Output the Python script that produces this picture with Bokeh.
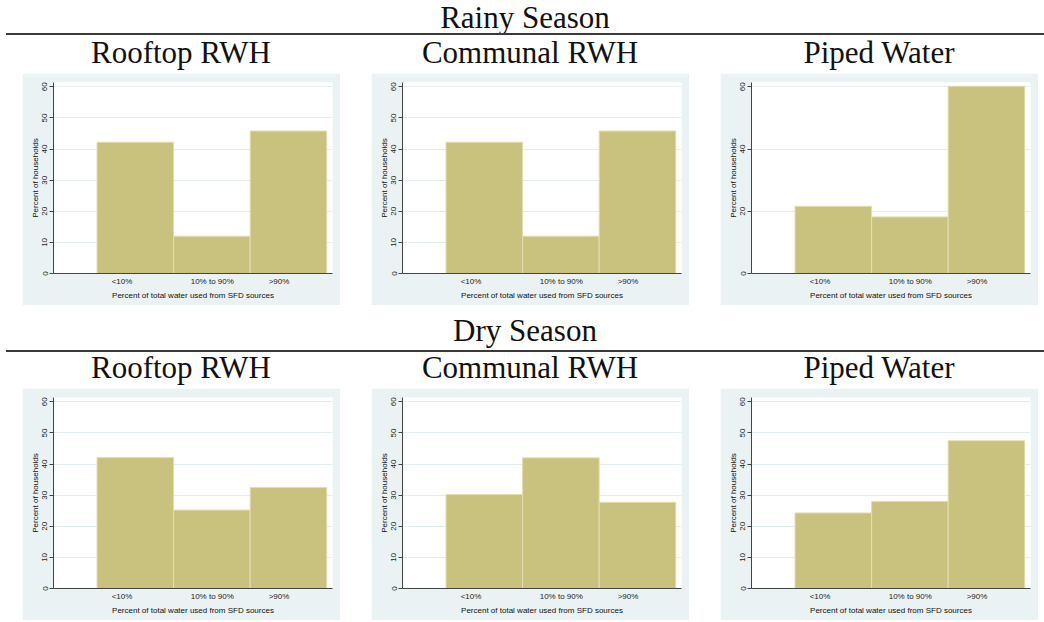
from bokeh.plotting import figure
from bokeh.layouts import column, row
from bokeh.models import Div, Spacer, Range1d, FixedTicker, CustomJSTickFormatter, ColumnDataSource
from bokeh.embed import file_html
from bokeh.resources import INLINE

# ---------------- data ----------------
categories = ["<10%", "10% to 90%", ">90%"]
season_titles = ["Rainy Season", "Dry Season"]
panel_titles = ["Rooftop RWH", "Communal RWH", "Piped Water"]

rainy_rooftop = [42.2, 12.0, 45.8]
rainy_communal = [42.2, 12.0, 45.8]
rainy_piped = [21.6, 18.2, 60.2]
dry_rooftop = [42.1, 25.2, 32.5]
dry_communal = [30.2, 42.0, 27.7]
dry_piped = [24.3, 28.0, 47.5]

y_ticks_10 = [0, 10, 20, 30, 40, 50, 60]
y_ticks_20 = [0, 20, 40, 60]

x_axis_title = "Percent of total water used from SFD sources"
y_axis_title = "Percent of households"

# ---------------- style ----------------
BG = "#eaf2f3"
BAR = "#c9c27f"
BAR_EDGE = "#e2deb0"
AXIS = "#444444"
SANS = "Liberation Sans"
SERIF = "Liberation Serif"

PW, PH = 318, 232
GAP = 31
LEFT = 22
RULE_LEFT = 6
TOTAL_W = 1038

bar_x = [1, 2, 3]
label_pos = [0.827, 2.005, 2.876]


def make_panel(values, yticks):
    src = ColumnDataSource(dict(x=bar_x, top=values, cat=categories))
    p = figure(width=PW, height=PH, output_backend="svg", toolbar_location=None,
               x_range=Range1d(-0.068, 3.575), y_range=Range1d(0, 61.4),
               min_border_left=31, min_border_right=8, min_border_top=9,
               min_border_bottom=32, background_fill_color="white",
               border_fill_color=BG, outline_line_color=None)
    p.vbar(x="x", top="top", width=1.0, bottom=0, source=src,
           fill_color=BAR, line_color=BAR_EDGE, line_width=1)

    p.xgrid.visible = False
    p.ygrid.grid_line_color = "#e3ecee"
    p.ygrid.grid_line_width = 1
    p.ygrid.ticker = FixedTicker(ticks=yticks)

    ya = p.yaxis[0]
    ya.ticker = FixedTicker(ticks=yticks)
    ya.major_label_orientation = "vertical"
    ya.major_tick_out = 4
    ya.major_tick_in = 0
    ya.minor_tick_out = 0
    ya.minor_tick_in = 0
    ya.major_label_standoff = 2
    ya.axis_label = y_axis_title
    ya.axis_label_standoff = 0

    xa = p.xaxis[0]
    xa.ticker = FixedTicker(ticks=label_pos)
    xa.formatter = CustomJSTickFormatter(args=dict(labels=categories),
                                         code="return labels[index];")
    xa.major_tick_out = 0
    xa.major_tick_in = 0
    xa.minor_tick_out = 0
    xa.minor_tick_in = 0
    xa.major_label_standoff = 3
    xa.axis_label = x_axis_title
    xa.axis_label_standoff = 2

    for ax in (xa, ya):
        ax.axis_line_color = AXIS
        ax.axis_line_width = 1
        ax.major_tick_line_color = AXIS
        ax.major_label_text_font = SANS
        ax.major_label_text_font_size = "8px"
        ax.major_label_text_color = "#222222"
        ax.axis_label_text_font = SANS
        ax.axis_label_text_font_size = "8px"
        ax.axis_label_text_font_style = "normal"
        ax.axis_label_text_color = "#111111"
    return p


def text_div(txt, w, h, line_h):
    html = ('<div style="font-family:\'%s\';font-size:31px;line-height:%dpx;'
            'text-align:center;color:#111;white-space:nowrap;">%s</div>'
            % (SERIF, line_h, txt))
    return Div(text=html, width=w, height=h, margin=0,
               styles={"text-align": "center"})


def rule():
    return row(Spacer(width=RULE_LEFT, height=2),
               Div(text="", width=TOTAL_W, height=2, margin=0,
                   styles={"background-color": "#3a3a3a"}),
               spacing=0)


def title_row(h, lh):
    return row(Spacer(width=LEFT, height=h),
               text_div(panel_titles[0], PW, h, lh),
               Spacer(width=GAP, height=h),
               text_div(panel_titles[1], PW, h, lh),
               Spacer(width=GAP, height=h),
               text_div(panel_titles[2], PW, h, lh),
               spacing=0)


def fig_row(figs):
    return row(Spacer(width=LEFT, height=PH), figs[0],
               Spacer(width=GAP, height=PH), figs[1],
               Spacer(width=GAP, height=PH), figs[2], spacing=0)


rainy_figs = [make_panel(rainy_rooftop, y_ticks_10),
              make_panel(rainy_communal, y_ticks_10),
              make_panel(rainy_piped, y_ticks_20)]
dry_figs = [make_panel(dry_rooftop, y_ticks_10),
            make_panel(dry_communal, y_ticks_10),
            make_panel(dry_piped, y_ticks_10)]

layout = column(
    row(Spacer(width=RULE_LEFT, height=33),
        text_div(season_titles[0], TOTAL_W, 33, 35), spacing=0),
    rule(),
    title_row(38, 35),
    fig_row(rainy_figs),
    row(Spacer(width=RULE_LEFT, height=45),
        text_div(season_titles[1], TOTAL_W, 45, 51), spacing=0),
    rule(),
    title_row(36, 31),
    fig_row(dry_figs),
    spacing=0,
)

open("out.html", "w").write(file_html(layout, INLINE))
